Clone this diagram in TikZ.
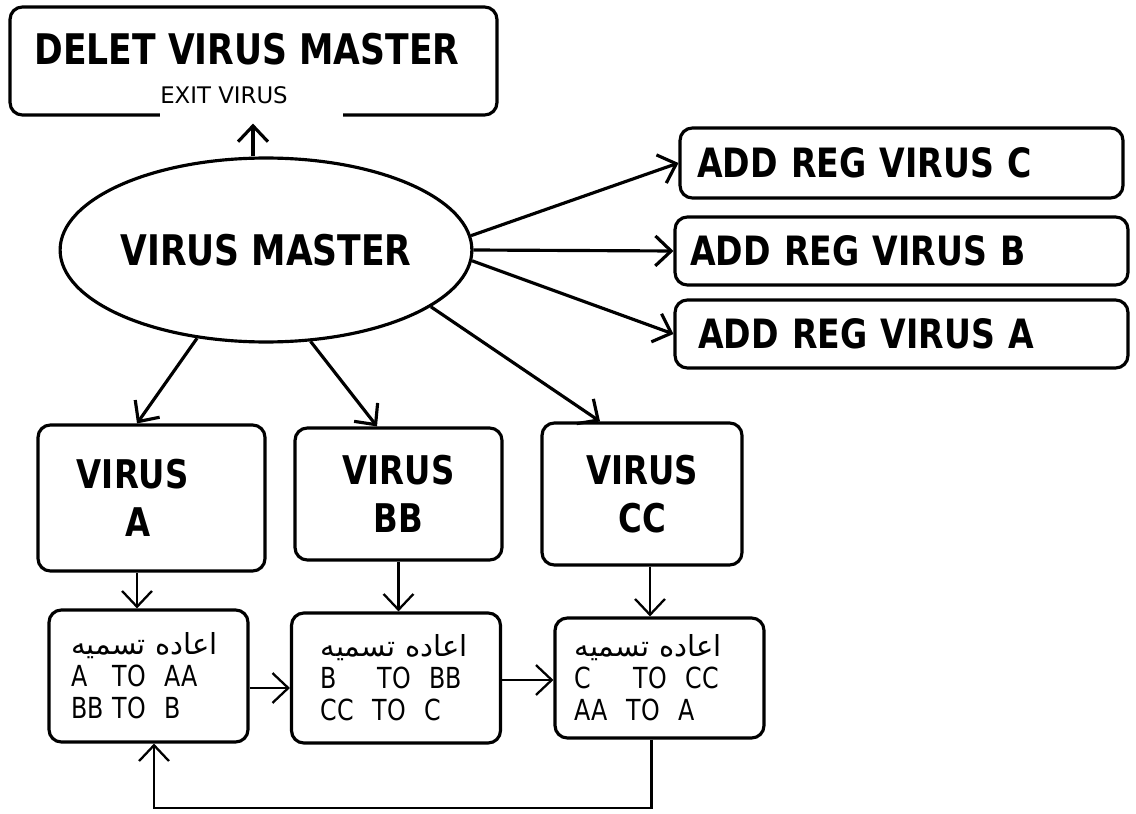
\documentclass[tikz,border=0pt]{standalone}
\usepackage{fontspec}
\setmainfont{DejaVu Sans}[FakeStretch=0.82]
\newfontfamily\exitfont{DejaVu Sans}
\newfontfamily\arabicfont[Script=Arabic]{DejaVu Sans}
\TeXXeTstate=1
\usetikzlibrary{shapes.geometric, arrows.meta}

% one line of a rename box: old name, TO, new name
\newcommand{\renline}[3]{\makebox[#1][l]{#2}\makebox[1.04cm][l]{TO}#3}

\begin{document}
\begin{tikzpicture}[x=0.02cm, y=-0.02cm,
    >={Straight Barb[length=9pt, width=17pt]},
    box/.style={draw, line width=1.8pt, rounded corners=7pt, inner sep=0pt},
    thickarrow/.style={->, line width=1.8pt},
    thinarrow/.style={->, line width=1.3pt},
    virusbox/.style={box, align=center, font=\fontsize{22.5}{27.3}\selectfont\bfseries},
    regbox/.style={box, align=left, minimum height=1.36cm, font=\fontsize{23}{27}\selectfont\bfseries},
    renbox/.style={box, align=left, font=\fontsize{16.5}{18.2}\selectfont}]
  \useasboundingbox (0,0) rectangle (1136,814);

  % Top: delete box with gap in its bottom edge
  \node[box, minimum width=9.74cm, minimum height=2.16cm] (dm) at (253.5, 61) {};
  \draw[white, line width=4pt] ([xshift=-1.87cm]dm.south) -- ([xshift=1.79cm]dm.south);
  \node[font=\fontsize{24}{28}\selectfont\bfseries] (dmtitle) at (247, 49) {DELET VIRUS MASTER};
  \node[font=\exitfont\fontsize{13}{15}\selectfont] (dmexit) at (224, 95) {EXIT VIRUS};

  % Master ellipse
  \node[draw, ellipse, line width=1.8pt, minimum width=7.64cm, minimum height=3.68cm, inner sep=0pt,
        font=\fontsize{24}{28}\selectfont\bfseries] (vm) at (266, 250) {VIRUS MASTER};

  % Right: registry boxes
  \node[regbox, text width=8.18cm, inner xsep=0.34cm, minimum height=1.4cm] (ac) at (901.5, 163) {ADD REG VIRUS C};
  \node[regbox, text width=8.46cm, inner xsep=0.3cm] (ab) at (901.5, 251) {ADD REG VIRUS B};
  \node[regbox, text width=8.14cm, inner xsep=0.46cm] (aa) at (901.5, 334) {ADD REG VIRUS A};

  % Middle: virus boxes
  \node[virusbox, minimum width=4.54cm, minimum height=2.92cm] (va) at (151.5, 498) {VIRUS\hspace*{0.75cm}\\A\hspace*{0.55cm}};
  \node[virusbox, minimum width=4.14cm, minimum height=2.64cm] (vb) at (398.5, 494) {VIRUS\\BB};
  \node[virusbox, minimum width=4.0cm, minimum height=2.84cm] (vc) at (642, 494) {VIRUS\\CC};

  % Bottom: rename boxes
  \node[renbox, text width=3.1cm, inner xsep=0.44cm, minimum height=2.64cm] (ra) at (148.5, 676)
    {{\arabicfont\beginR اعاده تسميه\endR}\\\renline{0.84cm}{A}{AA}\\\renline{0.84cm}{BB}{B}};
  \node[renbox, text width=3.02cm, inner xsep=0.58cm, minimum height=2.6cm] (rb) at (396, 678)
    {{\arabicfont\beginR اعاده تسميه\endR}\\\renline{1.14cm}{B}{BB}\\\renline{1.04cm}{CC}{C}};
  \node[renbox, text width=3.4cm, inner xsep=0.39cm, minimum height=2.4cm] (rc) at (659.5, 678)
    {{\arabicfont\beginR اعاده تسميه\endR}\\\renline{1.18cm}{C}{CC}\\\renline{1.04cm}{AA}{A}};

  % Arrows from the master
  \draw[thickarrow, shorten >=0.14cm] ([xshift=-0.26cm]vm.north) -- ([xshift=-0.26cm]vm.north |- dm.south);
  \draw[thickarrow] (vm.4) -- (ac.west);
  \draw[thickarrow] (vm.east) -- (ab.west);
  \draw[thickarrow] (vm.-3) -- (aa.west);
  \draw[thickarrow] (vm.-128) -- ([xshift=-0.29cm]va.north);
  \draw[thickarrow] (vm.-64) -- ([xshift=-0.43cm]vb.north);
  \draw[thickarrow] (vm.-19) -- ([xshift=-0.84cm]vc.north);

  % Arrows down to the rename boxes
  \draw[thinarrow] ([xshift=-0.29cm]va.south) -- ([xshift=-0.29cm]va.south |- ra.north);
  \draw[thinarrow] (vb.south) -- (vb.south |- rb.north);
  \draw[thinarrow] ([xshift=0.16cm]vc.south) -- ([xshift=0.16cm]vc.south |- rc.north);

  % Chain and loop back
  \draw[thinarrow] ([yshift=-0.24cm]ra.east) -- ([yshift=-0.24cm]ra.east -| rb.west);
  \draw[thinarrow] ([yshift=-0.04cm]rb.east) -- ([yshift=-0.04cm]rb.east -| rc.west);
  \coordinate (loop) at (400, 808);
  \draw[thinarrow] ([xshift=-0.16cm]rc.south) |- (loop) -| ([xshift=0.11cm]ra.south);
\end{tikzpicture}
\end{document}
